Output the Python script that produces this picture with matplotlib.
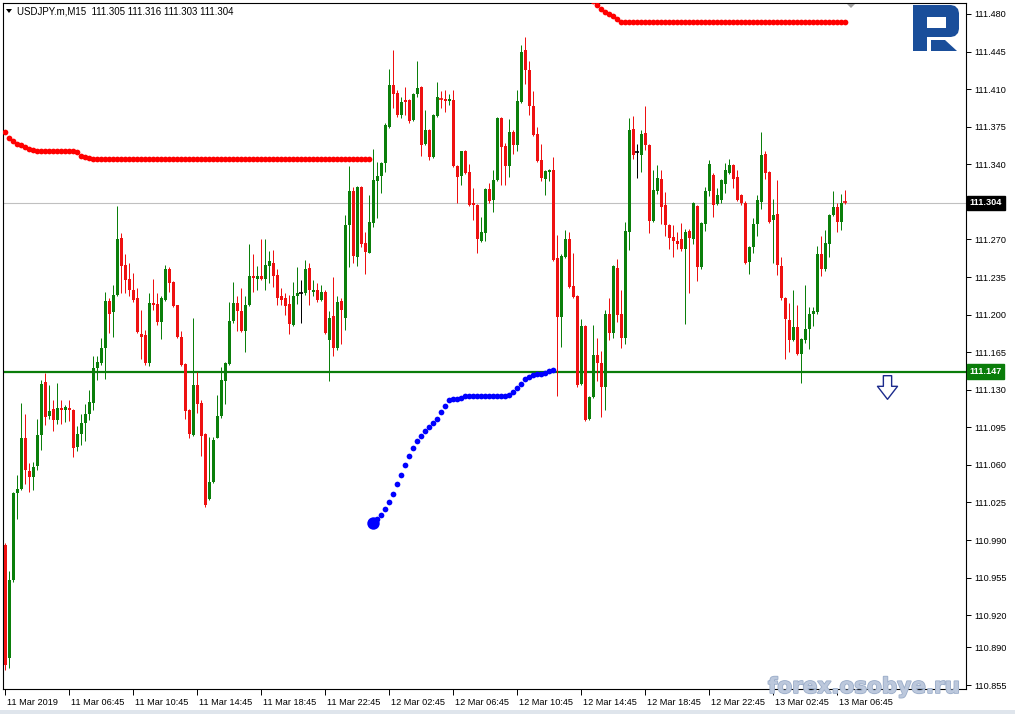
import matplotlib
matplotlib.use("Agg")
import matplotlib.pyplot as plt
from matplotlib.patches import Polygon, Rectangle
from matplotlib.path import Path
import matplotlib.transforms as mtransforms
import matplotlib.patheffects as pe

# ---------------- data ----------------
symbol_title = "USDJPY.m,M15  111.305 111.316 111.303 111.304"

open_ = [110.985, 110.880, 110.953, 111.034, 111.038, 111.085, 111.054, 111.049, 111.059, 111.088,
         111.137, 111.106, 111.112, 111.102, 111.113, 111.111, 111.113, 111.111, 111.077, 111.089,
         111.099, 111.107, 111.118, 111.150, 111.155, 111.169, 111.213, 111.202, 111.218, 111.271,
         111.246, 111.233, 111.223, 111.215, 111.182, 111.181, 111.155, 111.211, 111.210, 111.193,
         111.214, 111.242, 111.230, 111.209, 111.179, 111.154, 111.111, 111.088, 111.134, 111.118,
         111.089, 111.028, 111.044, 111.085, 111.106, 111.138, 111.154, 111.194, 111.211, 111.203,
         111.185, 111.209, 111.236, 111.233, 111.236, 111.233, 111.245, 111.248, 111.237, 111.217,
         111.215, 111.210, 111.190, 111.217, 111.220, 111.220, 111.243, 111.221, 111.223, 111.214,
         111.221, 111.176, 111.199, 111.169, 111.213, 111.197, 111.283, 111.315, 111.254, 111.319,
         111.267, 111.257, 111.285, 111.324, 111.329, 111.341, 111.375, 111.414, 111.406, 111.386,
         111.400, 111.400, 111.381, 111.405, 111.412, 111.359, 111.372, 111.347, 111.385, 111.401,
         111.401, 111.399, 111.400, 111.338, 111.329, 111.352, 111.333, 111.304, 111.302, 111.269,
         111.276, 111.317, 111.307, 111.325, 111.383, 111.357, 111.338, 111.370, 111.358, 111.398,
         111.446, 111.428, 111.394, 111.368, 111.344, 111.326, 111.333, 111.335, 111.253, 111.198,
         111.254, 111.270, 111.227, 111.217, 111.135, 111.189, 111.103, 111.123, 111.162, 111.155,
         111.133, 111.201, 111.183, 111.243, 111.201, 111.178, 111.277, 111.373, 111.351, 111.349,
         111.369, 111.358, 111.287, 111.315, 111.326, 111.302, 111.283, 111.272, 111.269, 111.270,
         111.261, 111.278, 111.270, 111.301, 111.244, 111.284, 111.315, 111.330, 111.303, 111.307,
         111.322, 111.332, 111.339, 111.328, 111.311, 111.304, 111.249, 111.263, 111.284, 111.305,
         111.350, 111.333, 111.288, 111.294, 111.245, 111.215, 111.195, 111.176, 111.188, 111.163,
         111.176, 111.187, 111.201, 111.202, 111.256, 111.242, 111.266, 111.293, 111.300, 111.286,
         111.305]
high = [110.987, 110.961, 111.035, 111.051, 111.118, 111.107, 111.062, 111.063, 111.103, 111.139,
        111.146, 111.134, 111.120, 111.136, 111.120, 111.116, 111.120, 111.112, 111.096, 111.107,
        111.117, 111.130, 111.161, 111.161, 111.178, 111.221, 111.215, 111.228, 111.301, 111.276,
        111.256, 111.248, 111.239, 111.225, 111.204, 111.186, 111.220, 111.233, 111.220, 111.217,
        111.246, 111.244, 111.231, 111.209, 111.185, 111.155, 111.112, 111.197, 111.147, 111.120,
        111.090, 111.086, 111.086, 111.125, 111.151, 111.156, 111.212, 111.230, 111.217, 111.225,
        111.217, 111.266, 111.256, 111.245, 111.270, 111.270, 111.259, 111.260, 111.242, 111.225,
        111.220, 111.218, 111.230, 111.244, 111.232, 111.251, 111.248, 111.232, 111.229, 111.228,
        111.223, 111.203, 111.235, 111.217, 111.215, 111.293, 111.338, 111.319, 111.320, 111.320,
        111.277, 111.311, 111.354, 111.342, 111.342, 111.378, 111.429, 111.446, 111.409, 111.403,
        111.412, 111.401, 111.406, 111.436, 111.413, 111.391, 111.373, 111.387, 111.417, 111.408,
        111.409, 111.405, 111.409, 111.339, 111.352, 111.353, 111.340, 111.318, 111.303, 111.291,
        111.318, 111.323, 111.335, 111.384, 111.384, 111.360, 111.382, 111.372, 111.409, 111.451,
        111.459, 111.436, 111.408, 111.375, 111.359, 111.335, 111.336, 111.347, 111.274, 111.256,
        111.279, 111.277, 111.257, 111.218, 111.196, 111.190, 111.124, 111.190, 111.178, 111.166,
        111.204, 111.215, 111.246, 111.252, 111.223, 111.286, 111.383, 111.385, 111.359, 111.372,
        111.394, 111.359, 111.335, 111.339, 111.335, 111.314, 111.284, 111.283, 111.277, 111.285,
        111.280, 111.280, 111.305, 111.302, 111.286, 111.319, 111.344, 111.332, 111.318, 111.326,
        111.341, 111.345, 111.340, 111.335, 111.312, 111.306, 111.264, 111.290, 111.311, 111.370,
        111.352, 111.334, 111.308, 111.325, 111.254, 111.216, 111.211, 111.223, 111.209, 111.178,
        111.228, 111.207, 111.207, 111.264, 111.273, 111.279, 111.294, 111.315, 111.304, 111.312,
        111.316]
low = [110.869, 110.871, 110.951, 111.010, 111.037, 111.042, 111.035, 111.037, 111.055, 111.074,
       111.097, 111.103, 111.092, 111.098, 111.098, 111.100, 111.101, 111.067, 111.073, 111.079,
       111.082, 111.102, 111.111, 111.139, 111.153, 111.140, 111.183, 111.179, 111.217, 111.220,
       111.220, 111.217, 111.212, 111.183, 111.159, 111.153, 111.152, 111.204, 111.190, 111.177,
       111.213, 111.221, 111.207, 111.178, 111.152, 111.103, 111.085, 111.087, 111.108, 111.068,
       111.021, 111.027, 111.043, 111.085, 111.104, 111.117, 111.153, 111.192, 111.185, 111.184,
       111.165, 111.208, 111.221, 111.223, 111.232, 111.223, 111.229, 111.226, 111.209, 111.209,
       111.200, 111.182, 111.189, 111.210, 111.192, 111.218, 111.209, 111.217, 111.212, 111.213,
       111.182, 111.138, 111.161, 111.167, 111.173, 111.186, 111.244, 111.248, 111.245, 111.263,
       111.238, 111.257, 111.282, 111.290, 111.313, 111.333, 111.374, 111.392, 111.384, 111.383,
       111.386, 111.378, 111.380, 111.403, 111.348, 111.358, 111.344, 111.346, 111.384, 111.392,
       111.389, 111.395, 111.337, 111.304, 111.321, 111.331, 111.301, 111.288, 111.257, 111.268,
       111.269, 111.304, 111.296, 111.324, 111.321, 111.321, 111.328, 111.350, 111.352, 111.397,
       111.415, 111.386, 111.366, 111.342, 111.324, 111.311, 111.324, 111.250, 111.124, 111.170,
       111.253, 111.225, 111.215, 111.133, 111.134, 111.101, 111.102, 111.122, 111.138, 111.105,
       111.111, 111.176, 111.178, 111.193, 111.169, 111.173, 111.260, 111.345, 111.327, 111.333,
       111.353, 111.276, 111.286, 111.312, 111.284, 111.273, 111.261, 111.254, 111.261, 111.259,
       111.191, 111.220, 111.266, 111.231, 111.242, 111.278, 111.310, 111.291, 111.302, 111.304,
       111.313, 111.331, 111.318, 111.306, 111.302, 111.247, 111.238, 111.257, 111.273, 111.298,
       111.326, 111.285, 111.248, 111.237, 111.214, 111.159, 111.165, 111.175, 111.162, 111.136,
       111.174, 111.168, 111.189, 111.201, 111.236, 111.241, 111.254, 111.292, 111.277, 111.279,
       111.303]
close = [110.874, 110.953, 111.034, 111.038, 111.085, 111.055, 111.049, 111.058, 111.088, 111.135,
         111.105, 111.110, 111.102, 111.113, 111.111, 111.114, 111.111, 111.076, 111.089, 111.099,
         111.107, 111.119, 111.150, 111.156, 111.169, 111.213, 111.201, 111.218, 111.270, 111.245,
         111.232, 111.223, 111.214, 111.184, 111.179, 111.155, 111.211, 111.209, 111.193, 111.215,
         111.242, 111.229, 111.208, 111.179, 111.153, 111.110, 111.089, 111.134, 111.117, 111.087,
         111.023, 111.044, 111.083, 111.106, 111.139, 111.155, 111.194, 111.211, 111.203, 111.185,
         111.209, 111.236, 111.234, 111.236, 111.233, 111.246, 111.250, 111.236, 111.215, 111.214,
         111.208, 111.191, 111.217, 111.220, 111.220, 111.242, 111.223, 111.223, 111.214, 111.221,
         111.183, 111.197, 111.169, 111.212, 111.204, 111.283, 111.315, 111.255, 111.319, 111.266,
         111.258, 111.286, 111.325, 111.329, 111.341, 111.377, 111.414, 111.405, 111.386, 111.398,
         111.398, 111.380, 111.405, 111.411, 111.358, 111.372, 111.347, 111.386, 111.403, 111.400,
         111.399, 111.401, 111.338, 111.328, 111.352, 111.332, 111.302, 111.302, 111.270, 111.277,
         111.317, 111.306, 111.325, 111.383, 111.356, 111.338, 111.370, 111.358, 111.399, 111.445,
         111.428, 111.394, 111.367, 111.343, 111.327, 111.334, 111.335, 111.251, 111.198, 111.255,
         111.270, 111.226, 111.216, 111.134, 111.189, 111.102, 111.123, 111.162, 111.155, 111.133,
         111.201, 111.183, 111.245, 111.200, 111.178, 111.278, 111.372, 111.349, 111.351, 111.368,
         111.358, 111.287, 111.316, 111.327, 111.300, 111.283, 111.271, 111.269, 111.266, 111.261,
         111.277, 111.271, 111.304, 111.244, 111.285, 111.315, 111.340, 111.302, 111.311, 111.325,
         111.335, 111.339, 111.326, 111.307, 111.304, 111.248, 111.263, 111.284, 111.307, 111.349,
         111.332, 111.286, 111.293, 111.246, 111.215, 111.196, 111.176, 111.188, 111.163, 111.177,
         111.187, 111.201, 111.203, 111.256, 111.242, 111.267, 111.293, 111.300, 111.286, 111.304,
         111.304]

# red trailing-stop dots (left), bars 0..91
red_stop_left = [111.370, 111.3645, 111.362, 111.359, 111.358, 111.356, 111.354, 111.353,
                 111.352, 111.352, 111.352, 111.352, 111.352, 111.352, 111.352, 111.352, 111.352, 111.352,
                 111.351, 111.348, 111.347, 111.346] + [111.345] * 70
# blue trailing-stop dots, bars 92..137
blue_stop = [111.0056, 111.0093, 111.0133, 111.0189, 111.0251, 111.0329, 111.0422, 111.0506,
             111.0599, 111.0683, 111.0757, 111.0823, 111.0869, 111.0919, 111.0956, 111.0987,
             111.1027, 111.1096, 111.1152, 111.1204, 111.1211, 111.1211, 111.1223, 111.1242,
             111.1245, 111.1245, 111.1245, 111.1245, 111.1245, 111.1245, 111.1245, 111.1245,
             111.1245, 111.1245, 111.1251, 111.1282, 111.1313, 111.1353, 111.1400, 111.1422,
             111.1437, 111.1447, 111.1447, 111.1453, 111.1478, 111.1484]
# red trailing-stop dots (top right), bars 147..210
red_stop_right = [111.4921, 111.4884, 111.4847, 111.4819, 111.4795, 111.4777, 111.4753] + [111.4728] * 57

red_left_start, blue_start, red_right_start = 0, 92, 147

bid_price = 111.304
level_price = 111.147
signal_bar, signal_price = 220.5, 111.133

x_tick_bars = [0, 16, 32, 48, 64, 80, 96, 112, 128, 144, 160, 176, 192, 208]
x_tick_labels = ["11 Mar 2019", "11 Mar 06:45", "11 Mar 10:45", "11 Mar 14:45", "11 Mar 18:45",
                 "11 Mar 22:45", "12 Mar 02:45", "12 Mar 06:45", "12 Mar 10:45", "12 Mar 14:45",
                 "12 Mar 18:45", "12 Mar 22:45", "13 Mar 02:45", "13 Mar 06:45"]
y_tick_values = [111.480, 111.445, 111.410, 111.375, 111.340, 111.270, 111.235, 111.200, 111.165,
                 111.130, 111.095, 111.060, 111.025, 110.990, 110.955, 110.920, 110.890, 110.855]

# ---------------- figure ----------------
W, H = 1015, 714
FONT = "Liberation Sans"
plt.rcParams['font.family'] = [FONT, 'DejaVu Sans']
fig = plt.figure(figsize=(W / 100, H / 100), dpi=100)
fig.patch.set_facecolor('white')


def px(x, y):
    return (x / W, 1 - y / H)


ax = fig.add_axes([3 / W, 1 - 689 / H, (966 - 3) / W, (689 - 3) / H])
ax.set_xlim(-0.5, 240.25)
ax.set_ylim(110.8513, 111.4902)

BULL = '#0b7f0b'
BEAR = '#ee1111'
lw1 = 0.72  # 1 px

n = len(close)
for i in range(n):
    o, h, l, c = open_[i], high[i], low[i], close[i]
    if o == c:
        col = 'black'
    elif c > o:
        col = BULL
    else:
        col = BEAR
    ax.vlines(i, l, h, colors=col, linewidth=lw1, zorder=3)
    bottom = min(o, c)
    hgt = abs(c - o)
    if hgt < 0.0011:
        ax.hlines((o + c) / 2, i - 0.4, i + 0.4, colors=col, linewidth=1.2, zorder=4)
    else:
        ax.bar(i, hgt, bottom=bottom, width=0.75, color=col, linewidth=0, zorder=4)

# horizontal lines
ax.axhline(bid_price, color='#c0c0c0', linewidth=0.8, zorder=1)
ax.axhline(level_price, color='#0a7d0a', linewidth=1.6, zorder=2)

# trailing stop dots
DOT = 17
ax.scatter(range(red_left_start, red_left_start + len(red_stop_left)), red_stop_left,
           s=DOT, color='#ff0000', linewidths=0, zorder=5)
ax.scatter(range(blue_start, blue_start + len(blue_stop)), blue_stop,
           s=DOT, color='#0000ff', linewidths=0, zorder=5)
ax.scatter([blue_start], [blue_stop[0]], s=80, color='#0000ff', linewidths=0, zorder=5)
ax.scatter(range(red_right_start, red_right_start + len(red_stop_right)), red_stop_right,
           s=DOT, color='#ff0000', linewidths=0, zorder=5)

# hollow down arrow signal
arrow_verts = [(-0.35, 1.0), (0.35, 1.0), (0.35, 0.1), (0.85, 0.1), (0.0, -1.0),
               (-0.85, 0.1), (-0.35, 0.1), (-0.35, 1.0)]
arrow_path = Path(arrow_verts, [Path.MOVETO] + [Path.LINETO] * 6 + [Path.CLOSEPOLY])
ax.plot([signal_bar], [signal_price], marker=arrow_path, markersize=17, markerfacecolor='white',
        markeredgecolor='#1b2a8c', markeredgewidth=1.0, linestyle='none', zorder=6)

# axes styling
for s in ax.spines.values():
    s.set_color('black')
    s.set_linewidth(0.8)
ax.yaxis.tick_right()
ax.set_yticks(y_tick_values)
ax.set_yticklabels([f"{v:.3f}" for v in y_tick_values])
ax.tick_params(axis='y', direction='out', length=3.5, width=0.7, pad=2.5, labelsize=6.6, colors='black')
ax.set_xticks(x_tick_bars)
ax.set_xticklabels(x_tick_labels)
ax.tick_params(axis='x', direction='out', length=4, width=0.7, pad=2.5, labelsize=6.6, colors='black')
offset = mtransforms.ScaledTranslation(2 / 100, 0, fig.dpi_scale_trans)
for lab in ax.get_xticklabels():
    lab.set_horizontalalignment('left')
    lab.set_transform(lab.get_transform() + offset)

# price boxes on the axis
for price, bg in [(bid_price, 'black'), (level_price, '#0a7d0a')]:
    ax.annotate(f"{price:.3f}", xy=(1, price), xycoords=('axes fraction', 'data'),
                xytext=(2.5, 0), textcoords='offset points', va='center', ha='left',
                fontsize=6.6, color='white', fontweight='bold', annotation_clip=False,
                bbox=dict(boxstyle='square,pad=0.3', fc=bg, ec=bg))

# title
fig.text(*px(17, 11.5), symbol_title, fontsize=7, va='center', ha='left', color='black')
fig.patches.append(Polygon([px(6, 9), px(12, 9), px(9, 13)], closed=True, transform=fig.transFigure,
                           facecolor='black', edgecolor='none'))

# chart shift marker
fig.patches.append(Polygon([px(847, 4), px(855, 4), px(851, 8)], closed=True, transform=fig.transFigure,
                           facecolor='#a0a0a0', edgecolor='none', zorder=10))

# logo
LOGO = '#1a4e9a'
outer = [px(913, 5), px(951, 5), px(955, 6), px(958, 9), px(959, 13), px(959, 29), px(958, 33),
         px(955, 36), px(951, 37), px(927, 37), px(927, 51), px(913, 51)]
fig.patches.append(Polygon(outer, closed=True, transform=fig.transFigure, facecolor=LOGO,
                           edgecolor='none', zorder=10))
fig.patches.append(Polygon([px(927, 17), px(946, 17), px(946, 28), px(927, 28)], closed=True,
                           transform=fig.transFigure, facecolor='white', edgecolor='none', zorder=11))
fig.patches.append(Polygon([px(931, 40), px(945, 40), px(957, 51), px(931, 51)], closed=True,
                           transform=fig.transFigure, facecolor=LOGO, edgecolor='none', zorder=10))

# watermark
wm = fig.text(*px(864, 687), "forex.osobye.ru", fontsize=15.5, fontweight='bold', color='#bcc8dc',
              ha='center', va='center', family='DejaVu Sans', zorder=20)
wm.set_path_effects([pe.withStroke(linewidth=1.2, foreground='#9badc9')])

# bottom strip
fig.patches.append(Rectangle(px(0, 714), 1, 4 / H, transform=fig.transFigure, facecolor='#dfe5ec',
                             edgecolor='none'))

fig.savefig("out.png", dpi=100)
